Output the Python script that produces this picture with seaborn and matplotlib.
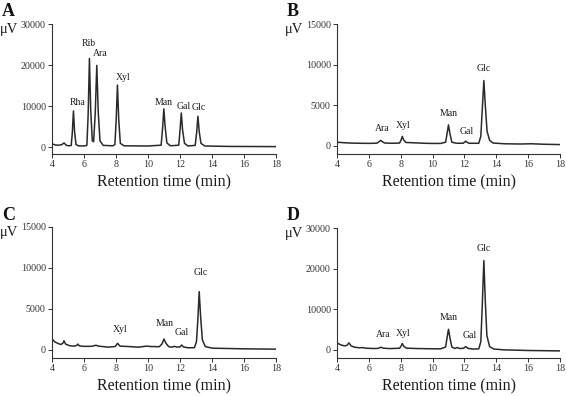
import matplotlib
matplotlib.use("Agg")
import matplotlib.pyplot as plt
import seaborn as sns
import pandas as pd

# ---- data: (retention time [min], signal [uV]) ----
trace_A = [(4.0, 800), (4.2, 500), (4.4, 450), (4.6, 550), (4.75, 1000), (4.9, 400), (5.1, 300),
           (5.2, 400), (5.27, 3500), (5.34, 8800), (5.41, 3800), (5.5, 600), (5.65, 300),
           (6.0, 250), (6.18, 400), (6.26, 8000), (6.34, 21600), (6.42, 9000), (6.52, 1500),
           (6.6, 1300), (6.7, 8000), (6.8, 19900), (6.89, 8500), (7.0, 1500), (7.2, 400),
           (7.8, 300), (7.93, 600), (8.01, 6500), (8.09, 15100), (8.17, 6800), (8.27, 900),
           (8.5, 300), (10.0, 250), (10.82, 450), (10.91, 4500), (10.99, 9300), (11.07, 5000),
           (11.18, 1000), (11.4, 300), (11.92, 450), (12.0, 4000), (12.08, 8300), (12.16, 4200),
           (12.28, 900), (12.5, 250), (12.95, 400), (13.04, 3500), (13.12, 7500), (13.2, 3800),
           (13.31, 900), (13.55, 250), (15.0, 150), (18.0, 100)]
trace_B = [(4.0, 450), (4.5, 380), (5.0, 340), (5.5, 320), (6.0, 310), (6.5, 330), (6.63, 500),
           (6.75, 680), (6.87, 480), (7.0, 350), (7.5, 320), (7.93, 350), (8.02, 700), (8.1, 1170),
           (8.18, 750), (8.32, 420), (8.8, 380), (9.5, 320), (10.0, 300), (10.5, 300), (10.82, 450),
           (10.91, 1500), (11.0, 2580), (11.09, 1500), (11.21, 450), (11.5, 320), (11.93, 330),
           (12.02, 480), (12.08, 580), (12.15, 450), (12.3, 320), (12.9, 320), (13.03, 1200),
           (13.12, 4500), (13.22, 8040), (13.31, 5000), (13.42, 1800), (13.58, 700), (13.8, 350),
           (14.5, 260), (15.5, 230), (16.2, 260), (17.0, 200), (18.0, 160)]
trace_C = [(4.0, 1360), (4.15, 1000), (4.35, 800), (4.55, 650), (4.68, 800), (4.75, 1100),
           (4.85, 700), (5.1, 500), (5.4, 450), (5.55, 550), (5.62, 700), (5.7, 480), (6.0, 420),
           (6.5, 430), (6.75, 560), (6.9, 450), (7.5, 330), (7.95, 400), (8.1, 790), (8.25, 450),
           (8.8, 400), (9.4, 320), (9.9, 450), (10.2, 400), (10.7, 380), (10.87, 700), (11.0, 1320),
           (11.12, 800), (11.3, 380), (11.5, 320), (11.65, 430), (11.8, 330), (12.0, 350),
           (12.1, 580), (12.22, 350), (12.5, 250), (12.9, 260), (13.03, 1000), (13.11, 3500),
           (13.2, 7100), (13.29, 4000), (13.4, 1200), (13.58, 400), (14.0, 200), (15.0, 160),
           (16.0, 120), (17.0, 100), (18.0, 80)]
trace_D = [(4.0, 1720), (4.2, 1300), (4.45, 980), (4.62, 1100), (4.75, 1720), (4.88, 1000),
           (5.1, 650), (5.4, 520), (5.6, 560), (5.8, 420), (6.3, 330), (6.6, 380), (6.75, 650),
           (6.9, 420), (7.3, 320), (7.93, 400), (8.02, 900), (8.1, 1560), (8.19, 900), (8.35, 420),
           (9.0, 330), (9.8, 280), (10.5, 250), (10.82, 700), (10.91, 3000), (11.0, 5080),
           (11.09, 3000), (11.21, 700), (11.4, 350), (11.55, 580), (11.7, 330), (11.95, 400),
           (12.08, 820), (12.2, 400), (12.5, 200), (12.9, 250), (13.03, 2000), (13.12, 11000),
           (13.22, 21970), (13.31, 12000), (13.41, 3500), (13.58, 800), (13.85, 200), (14.5, 0),
           (16.0, -150), (18.0, -250)]

# peak labels: (text, time, signal)
labels_A = [("Rha", 5.57, 10800), ("Rib", 6.30, 25200), ("Ara", 6.99, 22800), ("Xyl", 8.45, 17000),
            ("Man", 11.01, 10800), ("Gal", 12.23, 10000), ("Glc", 13.19, 9700)]
labels_B = [("Ara", 6.81, 2100), ("Xyl", 8.18, 2540), ("Man", 11.0, 3960), ("Gal", 12.17, 1800),
            ("Glc", 13.24, 9500)]
labels_C = [("Xyl", 8.28, 2480), ("Man", 11.05, 3180), ("Gal", 12.14, 2070), ("Glc", 13.31, 9460)]
labels_D = [("Ara", 6.88, 3690), ("Xyl", 8.18, 4100), ("Man", 11.02, 7950), ("Gal", 12.34, 3520),
            ("Glc", 13.24, 25000)]

panel_letters = ["A", "B", "C", "D"]
y_limits = [(-1700, 30000), (-1000, 15000), (-1000, 15000), (-2000, 30000)]
y_ticks = [[0, 10000, 20000, 30000], [0, 5000, 10000, 15000],
           [0, 5000, 10000, 15000], [0, 10000, 20000, 30000]]
x_ticks = [4, 6, 8, 10, 12, 14, 16, 18]

sns.set_style("ticks")
plt.rcParams["font.family"] = ["Liberation Serif", "DejaVu Serif"]

fig = plt.figure(figsize=(5.67, 3.96), dpi=100)
W, H = 567, 396
boxes = [(52, 24, 276, 154), (337, 24, 560, 154), (52, 227, 276, 358), (337, 228, 560, 358)]
traces = [trace_A, trace_B, trace_C, trace_D]
labels = [labels_A, labels_B, labels_C, labels_D]
line_col = "#2a2a2a"

for i in range(4):
    x0, y0, x1, y1 = boxes[i]
    ax = fig.add_axes([x0 / W, 1 - y1 / H, (x1 - x0) / W, (y1 - y0) / H])
    df = pd.DataFrame(traces[i], columns=["time", "signal"])
    sns.lineplot(data=df, x="time", y="signal", ax=ax, color=line_col, lw=1.1, sort=False)
    ax.set_xlim(4, 18)
    ax.set_ylim(*y_limits[i])
    ax.set_xticks(x_ticks)
    ax.set_yticks(y_ticks[i])
    ax.set_xticklabels([str(t) for t in x_ticks])
    ax.set_yticklabels([str(t) for t in y_ticks[i]])
    ax.tick_params(labelsize=7.2, length=3, width=0.7, pad=1.5, colors="#333333")
    ax.set_ylabel("")
    ax.set_xlabel("Retention time (min)", fontsize=11.5, labelpad=4, color="#1a1a1a")
    for s in ["left", "bottom"]:
        ax.spines[s].set_linewidth(0.8)
        ax.spines[s].set_color("#333333")
    sns.despine(ax=ax)
    for txt, t, v in labels[i]:
        ax.text(t, v, txt, ha="center", va="center", fontsize=7, color="#1a1a1a")
    # panel letter and unit
    fig.text((x0 - 50) / W, 1 - (y0 - 12) / H, panel_letters[i], fontsize=13, fontweight="bold",
             ha="left", va="center", color="#111111")
    fig.text((x0 - 52) / W, 1 - (y0 + 6) / H, "μV", fontsize=10.5, ha="left", va="center",
             color="#1a1a1a")

fig.savefig("out.png", dpi=100)
